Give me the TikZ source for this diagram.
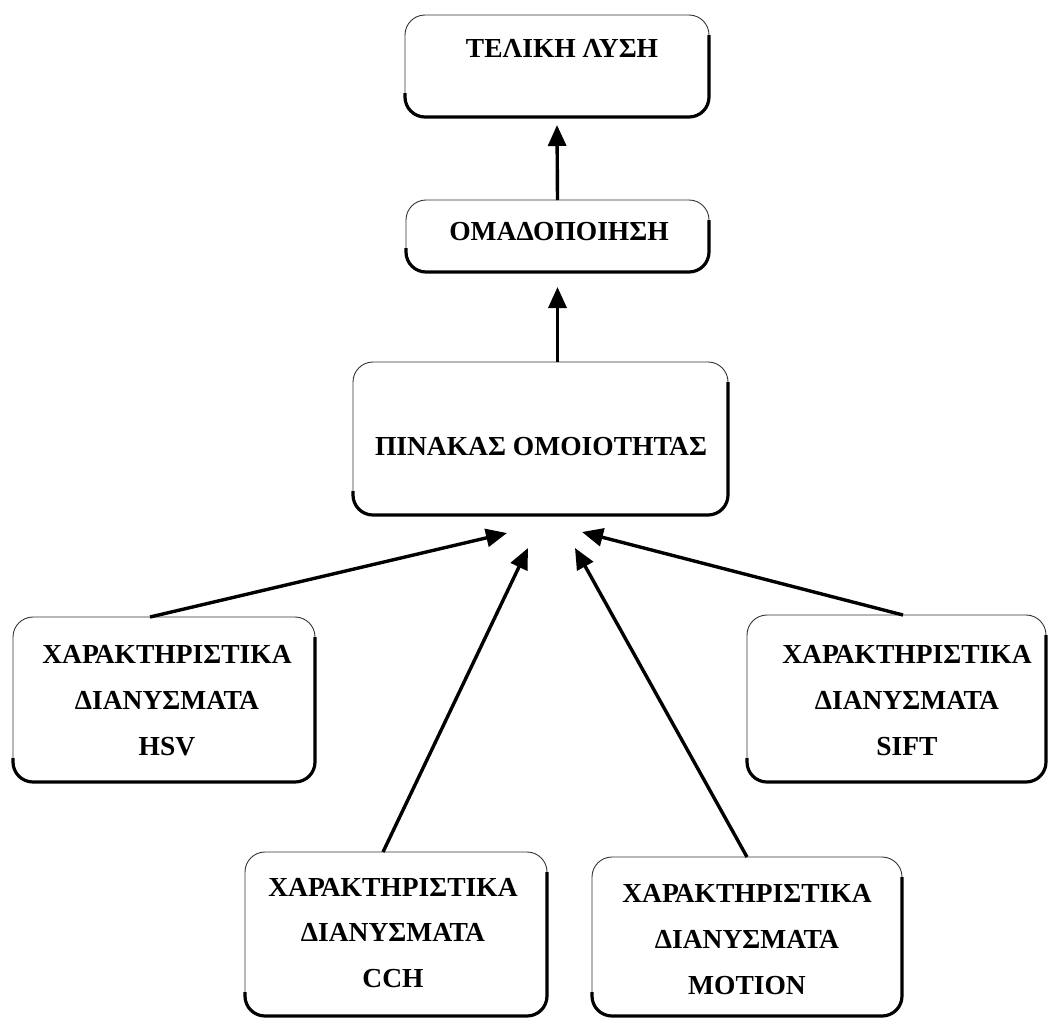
\documentclass[tikz,border=0pt]{standalone}
\usepackage{fontspec}
\setmainfont{Liberation Serif}
\usetikzlibrary{arrows.meta}
\begin{document}
\begin{tikzpicture}[x=1pt,y=-1pt,
  box/.style={draw=black!80, line width=0.9pt, rounded corners=20pt, inner sep=0pt, outer sep=0pt},
  shadowline/.style={draw=black, line width=3.2pt, rounded corners=20pt},
  lbl/.style={font=\bfseries\fontsize{27.5}{27.5}\selectfont, anchor=base, inner sep=0pt},
  arr/.style={draw=black, line width=3.4pt, -{Triangle[length=21pt,width=18pt]}}]
\fill[white] (0,0) rectangle (1049,1018);
\useasboundingbox (0,0) rectangle (1049,1018);
% boxes
\node[box, minimum width=304pt, minimum height=102pt] (T) at (557,66) {};
\node[box, minimum width=303pt, minimum height=72pt] (O) at (557.5,236) {};
\node[box, minimum width=375pt, minimum height=153pt] (P) at (540.5,438.5) {};
\node[box, minimum width=302pt, minimum height=165pt] (HSV) at (164,699.5) {};
\node[box, minimum width=299pt, minimum height=167pt] (SIFT) at (896.5,698.5) {};
\node[box, minimum width=302pt, minimum height=164pt] (CCH) at (396,934) {};
\node[box, minimum width=310pt, minimum height=159pt] (MOT) at (747,936.5) {};
% heavy bottom/right edges
\foreach \n in {T,O,P,HSV,SIFT,CCH,MOT}{
  \draw[shadowline] ([yshift=-20pt]\n.north east) -- (\n.south east) -- (\n.south west) -- ([yshift=24pt]\n.south west);
}
% labels
\node[lbl] (Tt) at (562,57) {ΤΕΛΙΚΗ ΛΥΣΗ};
\node[lbl] (Ot) at (559,240) {ΟΜΑΔΟΠΟΙΗΣΗ};
\node[lbl] (Pt) at (541,455) {ΠΙΝΑΚΑΣ ΟΜΟΙΟΤΗΤΑΣ};
\node[lbl] (H1) at (167,663) {ΧΑΡΑΚΤΗΡΙΣΤΙΚΑ};
\node[lbl] (H2) at (167,709) {ΔΙΑΝΥΣΜΑΤΑ};
\node[lbl] (H3) at (167,755) {HSV};
\node[lbl] (S1) at (907,663) {ΧΑΡΑΚΤΗΡΙΣΤΙΚΑ};
\node[lbl] (S2) at (907,709) {ΔΙΑΝΥΣΜΑΤΑ};
\node[lbl] (S3) at (907,755) {SIFT};
\node[lbl] (C1) at (393,896) {ΧΑΡΑΚΤΗΡΙΣΤΙΚΑ};
\node[lbl] (C2) at (393,941) {ΔΙΑΝΥΣΜΑΤΑ};
\node[lbl] (C3) at (393,987) {CCH};
\node[lbl] (M1) at (747,902) {ΧΑΡΑΚΤΗΡΙΣΤΙΚΑ};
\node[lbl] (M2) at (747,948) {ΔΙΑΝΥΣΜΑΤΑ};
\node[lbl] (M3) at (747,994) {MOTION};
% connectors
\draw[arr] (O.north) -- ([yshift=-8pt]T.south);
\draw[arr] (P.north -| O.south) -- ([yshift=-15pt]O.south);
\draw[arr] ([xshift=-14pt]HSV.north) -- ([xshift=-33.5pt,yshift=-18pt]P.south);
\draw[arr] ([xshift=-13pt]CCH.north) -- ([xshift=-12.5pt,yshift=-33pt]P.south);
\draw[arr] (MOT.north) -- ([xshift=34.5pt,yshift=-33pt]P.south);
\draw[arr] ([xshift=6.5pt]SIFT.north) -- ([xshift=41.5pt,yshift=-17pt]P.south);
\end{tikzpicture}
\end{document}
